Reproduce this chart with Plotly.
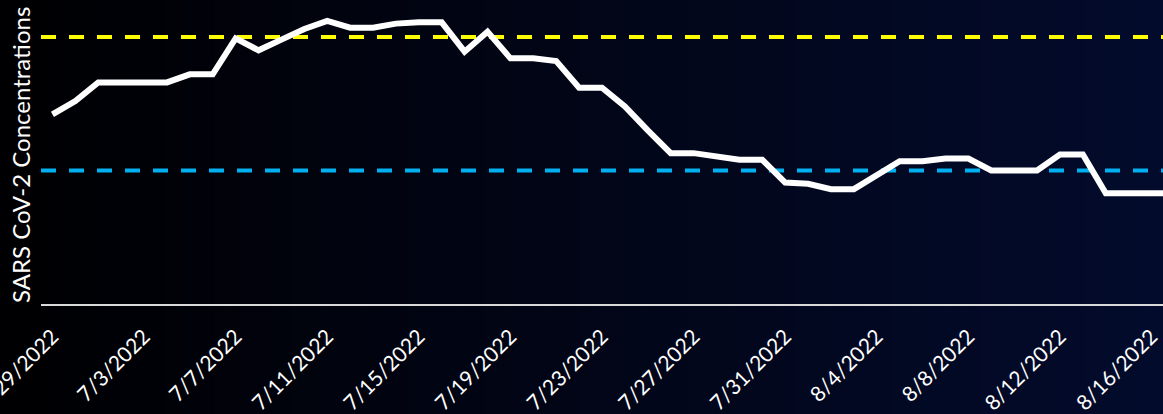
import datetime as dt
import plotly.graph_objects as go

# ---- data ----
start = dt.date(2022, 6, 29)
values = [142, 152, 166, 166, 166, 166, 172, 172, 199, 190,
          198, 206, 212, 207, 207, 210, 211, 211, 189, 204,
          184, 184, 182, 162, 162, 148, 130, 113, 113, 110,
          108, 108, 91, 90, 86, 86, 97, 107, 107, 109,
          109, 100, 100, 100, 112, 112, 83, 83, 83, 83]
dates = [start + dt.timedelta(days=i) for i in range(len(values))]
upper_threshold = 200
lower_threshold = 100
tick_dates = [start + dt.timedelta(days=4 * i) for i in range(13)]
tick_text = [f"{d.month}/{d.day}/{d.year}" for d in tick_dates]

W, H = 1163, 414
ML, MR, MT, MB = 41, 0, 0, 110
pw, ph = W - ML - MR, H - MT - MB

fig = go.Figure()

# background gradient (horizontal) via strips
n = 120
c0 = (0, 0, 2)
c1 = (3, 11, 44)
shapes = []
for i in range(n):
    t = i / (n - 1)
    col = tuple(round(a + (b - a) * t) for a, b in zip(c0, c1))
    x0 = (-ML + W * i / n) / pw
    x1 = (-ML + W * (i + 1) / n) / pw + 0.001
    shapes.append(dict(type="rect", xref="paper", yref="paper",
                       x0=x0, x1=x1, y0=-MB / ph - 0.01, y1=1 + MT / ph + 0.01,
                       fillcolor=f"rgb{col}", line=dict(width=0), layer="below"))

x_lo = dt.datetime(2022, 6, 28, 12)
x_hi = dt.datetime(2022, 8, 16, 12)

fig.add_trace(go.Scatter(x=[x_lo, x_hi], y=[upper_threshold] * 2, mode="lines",
                         line=dict(color="#FFFF00", width=4, dash="15px,13px"),
                         hoverinfo="skip", showlegend=False))
fig.add_trace(go.Scatter(x=[x_lo, x_hi], y=[lower_threshold] * 2, mode="lines",
                         line=dict(color="#00B0F0", width=4, dash="15px,13px"),
                         hoverinfo="skip", showlegend=False))
fig.add_trace(go.Scatter(x=dates, y=values, mode="lines",
                         line=dict(color="white", width=6),
                         showlegend=False))

fig.update_layout(
    width=W, height=H,
    margin=dict(l=ML, r=MR, t=MT, b=MB, autoexpand=False),
    paper_bgcolor="black", plot_bgcolor="rgba(0,0,0,0)",
    shapes=shapes,
    font=dict(family="Lato, Open Sans, sans-serif", color="white"),
    xaxis=dict(range=[x_lo, x_hi], tickvals=tick_dates, ticktext=tick_text,
               tickangle=-45, tickfont=dict(size=21, color="white"),
               showgrid=False, zeroline=False, showline=True, automargin=False,
               linecolor="#D9D9D9", linewidth=2, ticks="", ticklabelstandoff=10,
               ticklabeloverflow="allow"),
    yaxis=dict(range=[0, 227.7], showticklabels=False, showgrid=False,
               zeroline=False, showline=False, ticks="", automargin=False),
    annotations=[dict(text="SARS CoV-2 Concentrations", xref="paper", yref="paper",
                      x=(20 - ML) / pw, y=(304 - 155) / ph,
                      textangle=-90, showarrow=False,
                      font=dict(size=24, color="white"), xanchor="center", yanchor="middle")],
)

fig.write_html("out.html", config={"displayModeBar": False},
               post_script="document.body.style.margin='0';document.body.style.overflow='hidden';")
